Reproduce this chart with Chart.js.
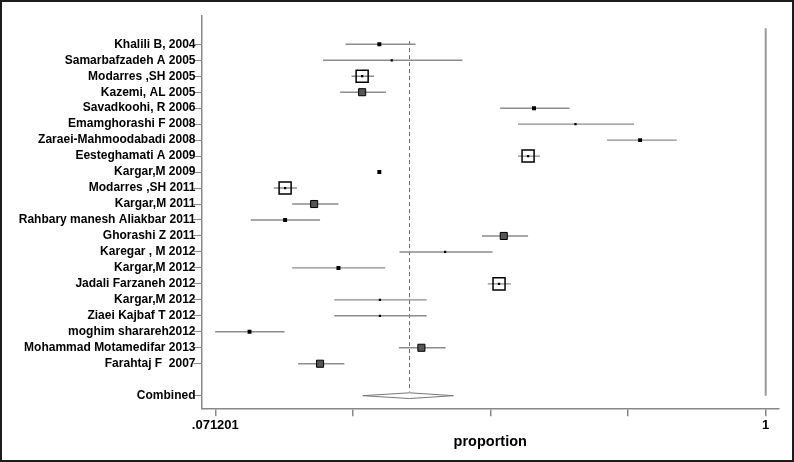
<!DOCTYPE html>
<html><head><meta charset="utf-8">
<script src="https://cdn.jsdelivr.net/npm/chart.js@4"></script>
<style>
html,body{margin:0;padding:0;background:#fff;}
#wrap{position:absolute;left:0;top:0;width:794px;height:462px;box-sizing:border-box;border:2px solid #1c1c1c;background:#fff;}
#c{display:block;}
</style></head><body>
<div id="wrap"><canvas id="c" width="790" height="458"></canvas></div>
<script>
// ---- data ----
const studies = [
  'Khalili B, 2004','Samarbafzadeh A 2005','Modarres ,SH 2005','Kazemi, AL 2005',
  'Savadkoohi, R 2006','Emamghorashi F 2008','Zaraei-Mahmoodabadi 2008','Eesteghamati A 2009',
  'Kargar,M 2009','Modarres ,SH 2011','Kargar,M 2011','Rahbary manesh Aliakbar 2011',
  'Ghorashi Z 2011','Karegar , M 2012','Kargar,M 2012','Jadali Farzaneh 2012',
  'Kargar,M 2012','Ziaei Kajbaf T 2012','moghim sharareh2012','Mohammad Motamedifar 2013',
  'Farahtaj F  2007'
];
const estimates = [0.348,0.369,0.319,0.319,0.609,0.679,0.788,0.599,0.348,0.189,0.238,0.189,
  0.558,0.459,0.279,0.550,0.349,0.349,0.129,0.419,0.248];
const lowerCI = [0.291,0.253,0.301,0.282,0.552,0.582,0.732,0.582,0.346,0.170,0.201,0.131,
  0.521,0.382,0.201,0.531,0.272,0.272,0.071,0.381,0.211];
const upperCI = [0.409,0.488,0.339,0.359,0.669,0.778,0.850,0.619,0.350,0.209,0.279,0.248,
  0.599,0.539,0.358,0.570,0.428,0.428,0.188,0.460,0.289];
const combinedLabel = 'Combined';
const combinedEstimate = 0.399;
const combinedLower = 0.320;
const combinedUpper = 0.473;
const xTickValues = [0.071201, 0.303401, 0.5356, 0.7678, 1];
const xTickLabels = ['.071201', '', '', '', '1'];
const xTitle = 'proportion';

// ---- marker styling (per row, not data) ----
const markerKind = ['s','t','B','M','s','t','s','B','s','B','M','s','M','t','s','B','t','t','s','M','M'];
const kindRadius = {B:1.6, M:5, s:2.8, t:1.6};
const kindFill = {B:'#000', M:'#555', s:'#000', t:'#000'};

// ---- derived ----
const rowY = studies.map((_, i) => i + 1);
const combinedRow = studies.length + 2;
const ciData = [];
studies.forEach((s, i) => {
  ciData.push({x: lowerCI[i], y: rowY[i]}, {x: upperCI[i], y: rowY[i]}, {x: upperCI[i], y: null});
});
const pointData = studies.map((s, i) => ({x: estimates[i], y: rowY[i]}));
const bigBoxData = studies.map((s, i) => ({x: estimates[i], y: rowY[i]})).filter((p, i) => markerKind[i] === 'B');
const diamondData = [
  {x: combinedLower, y: combinedRow}, {x: combinedEstimate, y: combinedRow - 0.18},
  {x: combinedUpper, y: combinedRow}, {x: combinedEstimate, y: combinedRow + 0.18},
  {x: combinedLower, y: combinedRow}
];
const yTickValues = rowY.concat([combinedRow]);
const yLabelFor = v => (v === combinedRow ? combinedLabel : (studies[v - 1] || ''));

new Chart(document.getElementById('c'), {
  type: 'scatter',
  data: {
    datasets: [
      { type: 'scatter', data: pointData, order: 1, pointStyle: 'rect',
        pointRadius: ctx => kindRadius[markerKind[ctx.dataIndex]],
        backgroundColor: ctx => kindFill[markerKind[ctx.dataIndex]],
        borderColor: '#000', borderWidth: ctx => markerKind[ctx.dataIndex] === 'M' ? 1 : 0 },
      { type: 'scatter', data: bigBoxData, order: 2, pointStyle: 'rect', pointRadius: 8.5,
        backgroundColor: 'rgba(0,0,0,0)', borderColor: '#000', borderWidth: 1.5 },
      { type: 'line', data: diamondData, order: 3, borderColor: '#777', borderWidth: 1,
        pointRadius: 0, fill: false, tension: 0 },
      { type: 'line', data: ciData, order: 5, borderColor: '#8c8c8c', borderWidth: 1.4,
        pointRadius: 0, spanGaps: false, tension: 0 },
      { type: 'line', data: [{x: 1, y: 0}, {x: 1, y: combinedRow}], order: 6,
        borderColor: '#9a9a9a', borderWidth: 2, pointRadius: 0 },
      { type: 'line', data: [{x: combinedEstimate, y: 0.8}, {x: combinedEstimate, y: combinedRow - 0.25}], order: 6,
        borderColor: '#666', borderWidth: 1, borderDash: [4, 3], pointRadius: 0 }
    ]
  },
  options: {
    responsive: false,
    devicePixelRatio: 1,
    animation: false,
    layout: { padding: { top: 13.7, right: 13, left: 0, bottom: 0 } },
    plugins: { legend: { display: false }, tooltip: { enabled: false } },
    scales: {
      x: {
        type: 'linear', min: 0.04791, max: 1.02244,
        afterBuildTicks: axis => { axis.ticks = xTickValues.map(v => ({value: v})); },
        afterFit: scale => { scale.height = 51.7; },
        ticks: { autoSkip: false, maxRotation: 0, color: '#000', padding: 1,
          font: { family: 'Liberation Sans, Arial, sans-serif', weight: 'bold', size: 13 },
          callback: (v, i) => xTickLabels[i] },
        grid: { drawOnChartArea: false, drawTicks: true, tickLength: 8, color: '#888', lineWidth: 1.5 },
        border: { display: true, color: '#888', width: 1.5 },
        title: { display: true, text: xTitle, color: '#000', padding: { top: 4, bottom: 9 },
          font: { family: 'Liberation Sans, Arial, sans-serif', weight: 'bold', size: 14.5 } }
      },
      y: {
        type: 'linear', reverse: true, min: -0.79, max: 23.79,
        afterBuildTicks: axis => { axis.ticks = yTickValues.map(v => ({value: v})); },
        afterFit: scale => { scale.width = 199.5; },
        ticks: { autoSkip: false, color: '#000', padding: -2,
          font: { family: 'Liberation Sans, Arial, sans-serif', weight: 'bold', size: 12 },
          callback: v => yLabelFor(v) },
        grid: { drawOnChartArea: false, drawTicks: true, tickLength: 8, color: '#888', lineWidth: 1 },
        border: { display: true, color: '#888', width: 1.5 }
      }
    }
  }
});
</script>
</body></html>
